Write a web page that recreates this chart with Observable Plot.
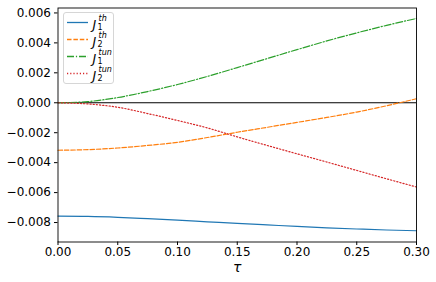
<!DOCTYPE html>
<html>
<head>
<meta charset="utf-8">
<script src="https://cdn.jsdelivr.net/npm/d3@7"></script>
<script src="https://cdn.jsdelivr.net/npm/@observablehq/plot@0.6"></script>
<style>
  body { margin: 0; background: #fff; }
  #wrap { position: relative; width: 436px; height: 282px; font-family: "DejaVu Sans", sans-serif; }
  #legend { position: absolute; left: 63px; top: 12px; width: 51px; height: 72px;
    border: 1px solid #d6d6d6; border-radius: 3px; background: rgba(255,255,255,0.8); box-sizing: border-box; }
  #legend svg { position: absolute; left: 0; top: 0; }
  .t { position: absolute; white-space: nowrap; color: #000; font-style: italic; }
  .J { font-size: 12.5px; line-height: 12px; }
  .sup { font-size: 8px; line-height: 8px; }
  .sub { font-size: 8px; line-height: 8px; font-style: normal; }
</style>
</head>
<body>
<div id="wrap"></div>
<script>
const tau   = [0, 0.025, 0.05, 0.075, 0.1, 0.125, 0.15, 0.175, 0.2, 0.225, 0.25, 0.275, 0.3];
const J1th  = [-0.00757, -0.00759, -0.00765, -0.00774, -0.00784, -0.00795, -0.00806, -0.00816, -0.00826, -0.00835, -0.00843, -0.00850, -0.00855];
const J2th  = [-0.00317, -0.00313, -0.00302, -0.00285, -0.00264, -0.00232, -0.00197, -0.00164, -0.00131, -0.00098, -0.00062, -0.00020, 0.00027];
const J1tun = [0, 0.00008, 0.00035, 0.00075, 0.00122, 0.00176, 0.00235, 0.00295, 0.00355, 0.00413, 0.00467, 0.00517, 0.00563];
const J2tun = [0, -0.00008, -0.00030, -0.00072, -0.00118, -0.00168, -0.00228, -0.00285, -0.00341, -0.00396, -0.00452, -0.00508, -0.00563];

const seriesKeys = ["J1th", "J2th", "J1tun", "J2tun"];
const seriesSup  = ["th", "th", "tun", "tun"];
const seriesSub  = ["1", "2", "1", "2"];
const seriesVals = [J1th, J2th, J1tun, J2tun];
const colors     = ["#1f77b4", "#ff7f0e", "#2ca02c", "#d62728"];
const dashes     = [null, "4.5,1.9", "7,1.9,1.2,1.9", "1.2,2"];

const xTicks = [0, 0.05, 0.1, 0.15, 0.2, 0.25, 0.3];
const yTicks = [-0.008, -0.006, -0.004, -0.002, 0, 0.002, 0.004, 0.006];

const rows = [];
seriesKeys.forEach((k, i) => seriesVals[i].forEach((v, j) => rows.push({series: k, tau: tau[j], J: v})));

const lines = seriesKeys.map((k, i) => Plot.line(rows.filter(r => r.series === k), {
  x: "tau", y: "J", stroke: colors[i], strokeWidth: 1.2,
  strokeDasharray: dashes[i] ?? undefined, curve: "monotone-x"
}));

const chart = Plot.plot({
  width: 436, height: 282,
  marginLeft: 57.5, marginRight: 20, marginTop: 7.5, marginBottom: 40.5,
  style: {fontFamily: "DejaVu Sans", fontSize: "12px", color: "#000", background: "#fff"},
  x: {domain: [0, 0.3]},
  y: {domain: [-0.0093, 0.00633]},
  marks: [
    Plot.ruleY([0], {stroke: "#000", strokeWidth: 1.1}),
    ...lines,
    Plot.frame({stroke: "#000", strokeWidth: 0.9}),
    Plot.axisY({ticks: yTicks, tickFormat: d3.format(".3f"), tickSize: 3.5, tickPadding: 3.5, label: null}),
    Plot.axisX({ticks: xTicks, tickFormat: d3.format(".2f"), tickSize: 3.5, tickPadding: 2, label: null}),
    Plot.text(["τ"], {frameAnchor: "bottom", dy: 29.5, fontSize: 14, fontStyle: "italic", fill: "#000"})
  ]
});
const wrap = document.getElementById("wrap");
wrap.appendChild(chart);

// legend
const legend = document.createElement("div");
legend.id = "legend";
const rowCenter = i => 9.5 + i * 17;
let svgLines = "";
seriesKeys.forEach((k, i) => {
  const c = rowCenter(i);
  const dash = dashes[i] ? `stroke-dasharray="${dashes[i]}"` : "";
  svgLines += `<line x1="3" x2="24" y1="${c}" y2="${c}" stroke="${colors[i]}" stroke-width="1.3" ${dash}/>`;
});
let html = `<svg width="49" height="70">${svgLines}</svg>`;
seriesKeys.forEach((k, i) => {
  const c = rowCenter(i);
  html += `<span class="t J" style="left:28.5px;top:${c - 3.5}px">J</span>`;
  html += `<span class="t sup" style="left:34.5px;top:${c - 7.5}px">${seriesSup[i]}</span>`;
  html += `<span class="t sub" style="left:33.5px;top:${c + 1.5}px">${seriesSub[i]}</span>`;
});
legend.innerHTML = html;
wrap.appendChild(legend);
</script>
</body>
</html>
